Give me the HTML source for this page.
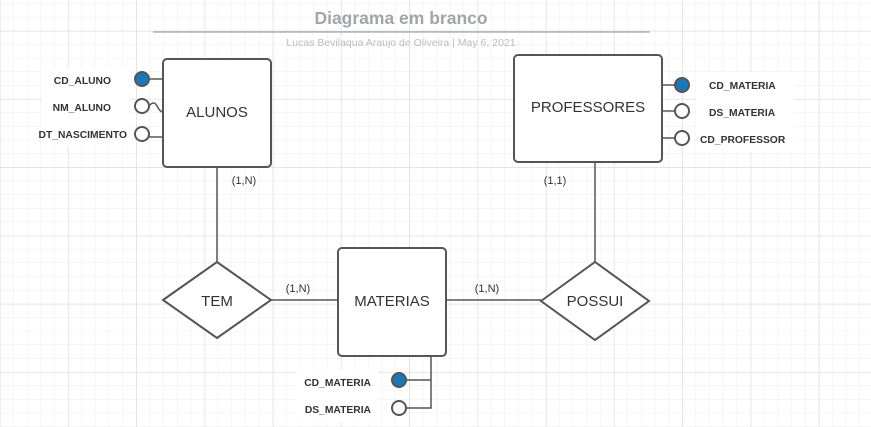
<!DOCTYPE html>
<html><head><meta charset="utf-8"><style>
html,body{margin:0;padding:0;background:#fff;}
svg{display:block;font-family:"Liberation Sans",sans-serif;}
</style></head><body>
<svg width="871" height="427" viewBox="0 0 871 427" xmlns="http://www.w3.org/2000/svg">
<defs>
<pattern id="minor" width="13.65" height="13.65" patternUnits="userSpaceOnUse" x="0" y="3.7">
<path d="M13.65 0V13.65M0 13.65H13.65" stroke="#ececec" stroke-width="1" fill="none"/>
</pattern>
<pattern id="major" width="68.25" height="68.25" patternUnits="userSpaceOnUse" x="0" y="31">
<path d="M0 0V68.25M0 0H68.25" stroke="#dcdcdc" stroke-width="1" fill="none"/>
</pattern>
</defs>
<rect width="871" height="427" fill="#fff"/>
<rect width="871" height="427" fill="url(#minor)"/>
<rect width="871" height="427" fill="url(#major)"/>

<g fill="#fff">
<rect x="42" y="68" width="88" height="78"/>
<rect x="696" y="72" width="98" height="80"/>
<rect x="296" y="370" width="82" height="52"/>
</g>

<text x="401" y="24" text-anchor="middle" font-size="17.5" font-weight="bold" fill="#a0a4ab">Diagrama em branco</text>
<line x1="153" y1="32" x2="650" y2="32" stroke="#a0a4ab" stroke-width="1.2"/>
<text x="401" y="46" text-anchor="middle" font-size="10.5" fill="#b8bcc2">Lucas Bevilaqua  Araujo de Oliveira  |  May 6, 2021</text>

<g stroke="#555" stroke-width="1.5" fill="none">
<line x1="217" y1="167" x2="217" y2="262"/>
<line x1="271" y1="300" x2="338" y2="300"/>
<line x1="446" y1="300" x2="541" y2="300"/>
<line x1="595" y1="162" x2="595" y2="262"/>
<line x1="149" y1="79" x2="163" y2="79"/>
<path d="M149 106 Q154 100 157 106 T163 112"/>
<line x1="149" y1="137" x2="163" y2="137"/>
<line x1="662" y1="85" x2="675" y2="85"/>
<line x1="662" y1="111" x2="675" y2="111"/>
<line x1="662" y1="138" x2="675" y2="138"/>
<path d="M431 356V408H406M431 380H406"/>
</g>

<g fill="#fff" stroke="#555" stroke-width="2">
<rect x="163" y="59" width="108" height="108" rx="4"/>
<rect x="514" y="55" width="148" height="107" rx="4"/>
<rect x="338" y="248" width="108" height="108" rx="4"/>
<polygon points="163,300 217,262 271,300 217,338"/>
<polygon points="541,301 595,262 649,301 595,340"/>
</g>

<g stroke="#555" stroke-width="2">
<circle cx="142" cy="79" r="7" fill="#1a78b8"/>
<circle cx="142" cy="106" r="7" fill="#fff"/>
<circle cx="142" cy="134" r="7" fill="#fff"/>
<circle cx="682" cy="85" r="7" fill="#1a78b8"/>
<circle cx="682" cy="111" r="7" fill="#fff"/>
<circle cx="682" cy="138" r="7" fill="#fff"/>
<circle cx="399" cy="380" r="7" fill="#1a78b8"/>
<circle cx="399" cy="408" r="7" fill="#fff"/>
</g>

<g font-size="15" fill="#333" text-anchor="middle">
<text x="217" y="117">ALUNOS</text>
<text x="588" y="112">PROFESSORES</text>
<text x="392" y="306">MATERIAS</text>
<text x="217" y="306">TEM</text>
<text x="595" y="306">POSSUI</text>
</g>

<g font-size="10.3" font-weight="bold" fill="#333">
<g text-anchor="end">
<text x="111" y="84">CD_ALUNO</text>
<text x="111" y="111">NM_ALUNO</text>
<text x="127" y="138">DT_NASCIMENTO</text>
<text x="371" y="386">CD_MATERIA</text>
<text x="371" y="413">DS_MATERIA</text>
</g>
<text x="709" y="89">CD_MATERIA</text>
<text x="709" y="116">DS_MATERIA</text>
<text x="700" y="143">CD_PROFESSOR</text>
</g>

<g font-size="11" fill="#333" text-anchor="middle">
<text x="244" y="184">(1,N)</text>
<text x="298" y="292">(1,N)</text>
<text x="487" y="292">(1,N)</text>
<text x="555" y="184">(1,1)</text>
</g>
</svg>
</body></html>
